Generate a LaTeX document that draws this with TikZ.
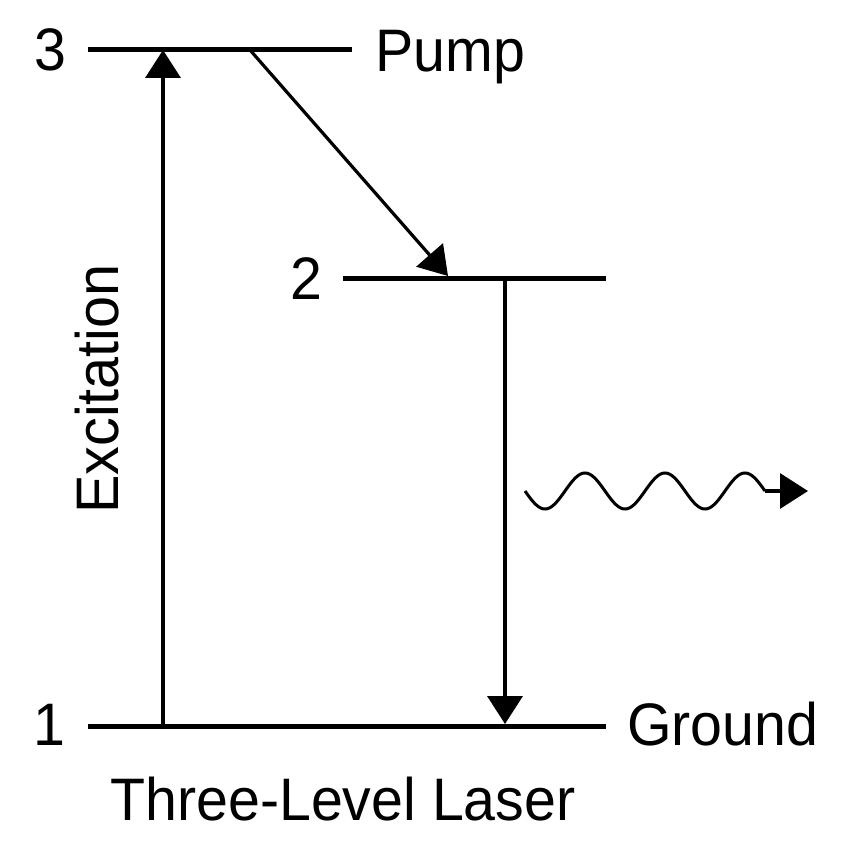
\documentclass[tikz,border=0pt]{standalone}
\usepackage{fontspec}
\setmainfont{Liberation Sans}
\usetikzlibrary{arrows.meta}
\begin{document}
\begin{tikzpicture}[x=1pt,y=-1pt,
  level/.style={line width=5pt},
  arr/.style={line width=3.8pt,-{Triangle[length=28pt,width=35pt]}},
  thin arr/.style={line width=3.2pt,-{Triangle[length=28pt,width=35pt]}},
  lbl/.style={inner sep=0pt,font=\fontsize{60}{72}\selectfont}]
\useasboundingbox (0,0) rectangle (854,856);
% levels
\coordinate (l3a) at (88,50);  \coordinate (l3b) at (352,50);
\coordinate (l2a) at (343,278); \coordinate (l2b) at (606,278);
\coordinate (l1a) at (88,726);  \coordinate (l1b) at (606,726);
\draw[level] (l3a) -- (l3b);
\draw[level] (l2a) -- (l2b);
\draw[level] (l1a) -- (l1b);
% labels
\node[lbl,anchor=base,xscale=0.955] (n3) at (50,71) {3};
\node[lbl,anchor=base west,xscale=0.955] (pump) at (375,72) {Pump};
\node[lbl,anchor=base,xscale=0.955] (n2) at (306,299) {2};
\node[lbl,anchor=base,xscale=0.955] (n1) at (49,745) {1};
\node[lbl,anchor=base west,xscale=0.955] (ground) at (627,745) {Ground};
\node[lbl,anchor=base,xscale=0.955] (title) at (343,820) {Three-Level Laser};
\node[lbl,anchor=base,rotate=90,xscale=0.96] (exc) at (118,389) {Excitation};
% transitions
\coordinate (e1) at (163,726); \coordinate (e3) at (163,50);
\draw[arr] (e1) -- (e3);
\coordinate (d3) at (250,50); \coordinate (d2) at (448,276);
\draw[thin arr] (d3) -- (d2);
\coordinate (m2) at (505,278); \coordinate (m1) at (505,724);
\draw[arr] (m2) -- (m1);
% photon
\coordinate (w0) at (525,491); \coordinate (w1) at (765,491); \coordinate (w2) at (808,491);
\draw[line width=3pt] plot[domain=0:240,samples=121,smooth] ({525+\x},{491+18*sin(\x*4.5)});
\draw[thin arr] (w1) -- (w2);
\end{tikzpicture}
\end{document}
